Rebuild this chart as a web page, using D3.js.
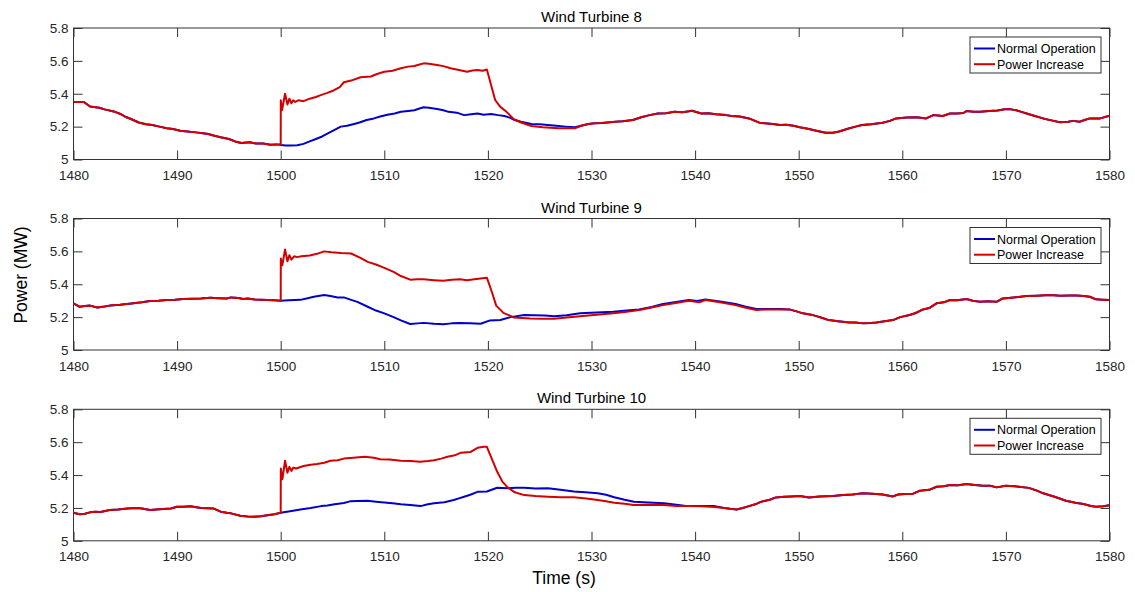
<!DOCTYPE html>
<html>
<head>
<meta charset="utf-8">
<script src="https://cdn.jsdelivr.net/npm/d3@7/dist/d3.min.js"></script>
<style>
  html, body { margin: 0; padding: 0; background: #ffffff; }
  svg { display: block; font-family: "Liberation Sans", Arial, sans-serif; }
</style>
</head>
<body>
<svg id="chart" width="1135" height="592"></svg>
<script>
// ---- Data: power output [time (s), power (MW)] ----
const xTicks = [1480, 1490, 1500, 1510, 1520, 1530, 1540, 1550, 1560, 1570, 1580];
const yTicks = [5, 5.2, 5.4, 5.6, 5.8];
const yTickLabels = ["5", "5.2", "5.4", "5.6", "5.8"];
const turbineNames = ["Wind Turbine 8", "Wind Turbine 9", "Wind Turbine 10"];
const seriesNames = ["Normal Operation", "Power Increase"];

// Wind Turbine 8
const wt8Before = [[1480,5.35],[1481,5.35],[1481.6,5.322],[1482.5,5.315],[1483,5.305],[1484,5.29],[1484.6,5.275],[1485,5.26],[1485.6,5.245],[1486.3,5.225],[1487,5.215],[1487.6,5.21],[1488.3,5.2],[1489,5.19],[1489.6,5.185],[1490.3,5.175],[1491,5.17],[1491.8,5.165],[1492.5,5.16],[1493,5.155],[1493.6,5.145],[1494.2,5.135],[1495,5.125],[1495.6,5.11],[1496.2,5.1],[1497,5.105],[1497.6,5.097],[1498.3,5.097],[1499,5.09],[1499.6,5.092],[1500,5.09]];
const wt8Normal = [[1500,5.088],[1500.5,5.085],[1501,5.085],[1501.6,5.087],[1502.2,5.095],[1502.8,5.11],[1503.4,5.125],[1504,5.14],[1504.6,5.16],[1505.2,5.18],[1505.8,5.2],[1506.4,5.205],[1507,5.215],[1507.6,5.225],[1508.3,5.24],[1509,5.25],[1509.6,5.262],[1510.3,5.272],[1511,5.28],[1511.6,5.29],[1512.3,5.295],[1512.9,5.3],[1513.4,5.31],[1513.8,5.318],[1514.3,5.315],[1515.1,5.307],[1515.7,5.3],[1516.2,5.29],[1517,5.285],[1517.7,5.27],[1518.4,5.275],[1519,5.28],[1519.6,5.272],[1520.3,5.277],[1521,5.27],[1521.6,5.265],[1522.1,5.255],[1522.6,5.24],[1523.2,5.23],[1524.2,5.216],[1525,5.215],[1525.8,5.21],[1526.6,5.205],[1527.5,5.2],[1528.4,5.196],[1529,5.205],[1529.7,5.216]];
const wt8Increase = [[1500,5.09],[1500.01,5.36],[1500.12,5.3],[1500.16,5.31],[1500.42,5.4],[1500.65,5.335],[1500.84,5.37],[1501.03,5.342],[1501.2,5.36],[1501.4,5.35],[1501.7,5.36],[1502.2,5.355],[1502.8,5.37],[1503.4,5.38],[1503.8,5.39],[1504.5,5.405],[1505.1,5.42],[1505.7,5.44],[1506.1,5.47],[1506.8,5.48],[1507.7,5.5],[1508.7,5.505],[1509.3,5.52],[1510,5.534],[1510.8,5.54],[1511.6,5.555],[1512.3,5.565],[1512.9,5.569],[1513.4,5.578],[1513.8,5.585],[1514.3,5.582],[1515.1,5.575],[1515.7,5.568],[1516.4,5.555],[1517.2,5.545],[1518,5.534],[1518.5,5.542],[1519,5.545],[1519.5,5.54],[1519.9,5.548],[1520.7,5.362],[1521.2,5.32],[1521.8,5.29],[1522.5,5.245],[1523.2,5.225],[1524.2,5.204],[1525.3,5.196],[1526.8,5.19],[1527.6,5.19],[1528.4,5.19],[1529,5.205],[1529.7,5.216]];
const wt8After = [[1530.3,5.22],[1531,5.222],[1532.3,5.23],[1533,5.232],[1534,5.24],[1534.8,5.257],[1535.6,5.27],[1536.4,5.28],[1537.2,5.282],[1538,5.29],[1538.8,5.288],[1539.7,5.297],[1540.6,5.28],[1541.3,5.282],[1542,5.275],[1543,5.27],[1543.5,5.265],[1544.3,5.262],[1545.2,5.25],[1546.2,5.224],[1547.5,5.216],[1548.2,5.21],[1548.8,5.212],[1549.5,5.205],[1550.1,5.196],[1551,5.185],[1551.7,5.175],[1552.6,5.163],[1553.3,5.163],[1553.9,5.17],[1554.9,5.19],[1555.5,5.2],[1556.1,5.21],[1557,5.215],[1558.1,5.224],[1558.8,5.235],[1559.4,5.25],[1560.4,5.255],[1561.4,5.257],[1562.3,5.25],[1563,5.27],[1563.9,5.265],[1564.6,5.28],[1565.3,5.28],[1565.9,5.283],[1566.2,5.295],[1566.9,5.29],[1567.5,5.29],[1568.4,5.295],[1569.2,5.298],[1570,5.307],[1570.5,5.305],[1571,5.3],[1571.5,5.29],[1572,5.28],[1572.8,5.265],[1573.6,5.25],[1574.4,5.238],[1575.2,5.227],[1576,5.23],[1576.5,5.235],[1577.1,5.23],[1577.6,5.24],[1578.1,5.25],[1579.1,5.25],[1580,5.266]];

// Wind Turbine 9
const wt9Before = [[1480,5.284],[1480.6,5.263],[1481.1,5.268],[1481.6,5.27],[1482.3,5.259],[1483,5.265],[1483.5,5.27],[1484.5,5.275],[1485.8,5.284],[1486.6,5.29],[1487.4,5.298],[1488.2,5.3],[1489,5.304],[1489.8,5.306],[1490.6,5.31],[1491.5,5.312],[1492.3,5.313],[1493.2,5.318],[1494,5.315],[1494.8,5.313],[1495.2,5.32],[1495.9,5.316],[1496.4,5.31],[1496.8,5.313],[1497.5,5.307],[1498.7,5.304],[1499.4,5.302],[1500,5.3]];
const wt9Normal = [[1500,5.3],[1500.8,5.302],[1501.9,5.305],[1502.6,5.315],[1503.2,5.324],[1504.2,5.334],[1504.8,5.328],[1505.5,5.32],[1506.1,5.32],[1506.8,5.305],[1507.4,5.293],[1508.4,5.263],[1509.2,5.24],[1510,5.223],[1510.9,5.2],[1511.6,5.18],[1512.5,5.158],[1513.2,5.162],[1513.8,5.165],[1514.8,5.16],[1515.7,5.157],[1516.5,5.162],[1517.3,5.165],[1518.3,5.163],[1519.3,5.16],[1520.2,5.18],[1521.2,5.182],[1522.2,5.2],[1523.5,5.213],[1524.5,5.212],[1525.5,5.21],[1526.4,5.206],[1527.6,5.212],[1528.9,5.223],[1530.5,5.228],[1532.1,5.233],[1533.4,5.24],[1534.6,5.247],[1535.8,5.262],[1536.9,5.28],[1538,5.29],[1539.4,5.304],[1540.2,5.298],[1541,5.308],[1542.4,5.295],[1543.9,5.28],[1544.8,5.265],[1545.9,5.25],[1547,5.25],[1548.3,5.25]];
const wt9Increase = [[1500,5.3],[1500.01,5.557],[1500.16,5.516],[1500.42,5.612],[1500.65,5.54],[1500.84,5.577],[1501.03,5.55],[1501.3,5.57],[1501.6,5.565],[1502,5.57],[1502.8,5.575],[1503.5,5.585],[1504.2,5.6],[1504.9,5.595],[1505.8,5.59],[1506.8,5.587],[1507.7,5.56],[1508.4,5.536],[1509.2,5.52],[1510,5.5],[1510.9,5.475],[1511.6,5.45],[1512.5,5.428],[1513.2,5.43],[1513.8,5.43],[1514.8,5.425],[1515.7,5.421],[1516.5,5.428],[1517.3,5.43],[1518,5.425],[1518.7,5.43],[1519.3,5.435],[1519.9,5.44],[1520.4,5.35],[1520.8,5.27],[1521.5,5.226],[1522.5,5.198],[1523.3,5.195],[1524.1,5.192],[1525.2,5.19],[1526.4,5.19],[1527.6,5.198],[1528.9,5.206],[1530.5,5.215],[1532.1,5.223],[1533.4,5.232],[1534.6,5.243],[1535.8,5.258],[1536.9,5.273],[1538,5.285],[1539.4,5.3],[1540.4,5.29],[1541,5.304],[1542.4,5.29],[1543.9,5.273],[1544.8,5.258],[1545.9,5.243],[1547,5.247],[1548.3,5.247]];
const wt9After = [[1549.1,5.247],[1549.8,5.235],[1550.4,5.223],[1551.2,5.215],[1551.7,5.206],[1552.3,5.195],[1552.9,5.182],[1553.8,5.175],[1554.9,5.168],[1555.5,5.167],[1556.2,5.162],[1557,5.165],[1557.5,5.168],[1558.3,5.175],[1559.1,5.182],[1559.8,5.2],[1560.7,5.213],[1561.3,5.225],[1562,5.247],[1562.6,5.255],[1563.3,5.284],[1564,5.29],[1564.6,5.304],[1565.3,5.302],[1566.2,5.31],[1566.8,5.3],[1567.5,5.293],[1568.3,5.297],[1569.1,5.293],[1569.7,5.314],[1570.5,5.318],[1571.2,5.322],[1572,5.328],[1573,5.33],[1574.2,5.334],[1575.3,5.33],[1576.1,5.332],[1576.8,5.332],[1577.5,5.328],[1578.1,5.324],[1578.7,5.308],[1579.3,5.306],[1580,5.304]];

// Wind Turbine 10
const wt10Before = [[1480,5.171],[1480.6,5.161],[1481.1,5.165],[1481.6,5.173],[1482.1,5.177],[1482.6,5.175],[1483.5,5.187],[1484.3,5.19],[1485.2,5.197],[1486.1,5.2],[1486.6,5.197],[1487.4,5.187],[1488.3,5.192],[1489.4,5.197],[1490,5.207],[1490.6,5.207],[1491.3,5.21],[1492.3,5.2],[1493.5,5.197],[1494.2,5.177],[1494.8,5.17],[1495.2,5.167],[1496.1,5.152],[1496.8,5.148],[1497.4,5.146],[1498.1,5.15],[1498.7,5.156],[1499.4,5.162],[1500,5.171]];
const wt10Normal = [[1500,5.171],[1500.9,5.18],[1501.9,5.191],[1502.9,5.2],[1503.9,5.211],[1504.5,5.215],[1505.2,5.223],[1506.1,5.23],[1506.7,5.24],[1507.4,5.242],[1508.4,5.244],[1509.2,5.238],[1510,5.233],[1510.8,5.228],[1511.6,5.222],[1512.5,5.218],[1513.5,5.211],[1514.2,5.222],[1514.8,5.228],[1515.8,5.235],[1516.7,5.248],[1517.2,5.258],[1517.7,5.268],[1518.3,5.28],[1519,5.298],[1519.9,5.3],[1520.9,5.323],[1521.9,5.32],[1522.7,5.323],[1523.5,5.323],[1524.6,5.318],[1525.8,5.32],[1527,5.31],[1528.3,5.3],[1529.4,5.296],[1530.6,5.289],[1531.4,5.28],[1532.2,5.265],[1533.2,5.25],[1534.1,5.238],[1535.5,5.233],[1537,5.228],[1538.2,5.22],[1539.3,5.211],[1540.6,5.212],[1541.9,5.211]];
const wt10Increase = [[1500,5.171],[1500.01,5.44],[1500.16,5.374],[1500.42,5.487],[1500.65,5.414],[1500.84,5.45],[1501.03,5.425],[1501.2,5.445],[1501.5,5.44],[1502.2,5.455],[1502.9,5.462],[1503.5,5.467],[1504.2,5.475],[1504.8,5.487],[1505.5,5.49],[1506.1,5.5],[1507,5.505],[1508.1,5.511],[1509,5.505],[1509.6,5.496],[1510.5,5.495],[1511.6,5.487],[1512.5,5.485],[1513.5,5.481],[1514.2,5.485],[1514.8,5.49],[1515.5,5.5],[1516.1,5.511],[1516.8,5.52],[1517.4,5.536],[1518.3,5.54],[1519,5.566],[1519.6,5.572],[1519.9,5.572],[1520.9,5.42],[1521.4,5.36],[1521.9,5.325],[1522.6,5.295],[1523.5,5.278],[1524.6,5.272],[1525.8,5.268],[1527,5.265],[1528.3,5.265],[1529.5,5.258],[1530.6,5.248],[1531.4,5.24],[1532.2,5.232],[1533.2,5.225],[1534.1,5.218],[1535.5,5.22],[1537,5.218],[1538.2,5.212],[1539.3,5.211],[1540.6,5.21],[1541.9,5.205]];
const wt10After = [[1542.8,5.2],[1543.4,5.195],[1544,5.191],[1544.6,5.2],[1545.2,5.211],[1545.8,5.222],[1546.4,5.238],[1547.2,5.25],[1547.8,5.264],[1548.6,5.268],[1549.3,5.27],[1550.1,5.272],[1551,5.264],[1552,5.27],[1553.3,5.272],[1554.3,5.278],[1555.2,5.282],[1556.2,5.289],[1557.1,5.286],[1558.1,5.282],[1559.1,5.27],[1559.6,5.282],[1560.3,5.285],[1561,5.285],[1561.7,5.305],[1562.6,5.31],[1563.3,5.329],[1564,5.332],[1564.6,5.339],[1565.4,5.338],[1566.2,5.345],[1567,5.34],[1567.8,5.335],[1568.5,5.335],[1569.1,5.325],[1570,5.335],[1570.8,5.332],[1571.5,5.328],[1572.2,5.322],[1573,5.305],[1573.6,5.289],[1574.7,5.268],[1575.8,5.244],[1576.7,5.232],[1577.5,5.224],[1578.2,5.212],[1578.7,5.207],[1579.4,5.21],[1580,5.216]];

// ---- Assemble full series per turbine ----
const panels = [
  { title: turbineNames[0], normal: wt8Before.concat(wt8Normal, wt8After),  increase: wt8Before.concat(wt8Increase, wt8After) },
  { title: turbineNames[1], normal: wt9Before.concat(wt9Normal, wt9After),  increase: wt9Before.concat(wt9Increase, wt9After) },
  { title: turbineNames[2], normal: wt10Before.concat(wt10Normal, wt10After), increase: wt10Before.concat(wt10Increase, wt10After) }
];

// ---- Layout ----
const plotLeft = 73.5, plotRight = 1109.5, plotH = 131.5;
const panelTops = [28, 218.5, 409.3];
const axisColor = "#333333";
const colors = ["#0000c8", "#d40000"];
const tickLen = 9;

const svg = d3.select("#chart");
const x = d3.scaleLinear().domain([1480, 1580]).range([plotLeft, plotRight]);

panels.forEach((p, i) => {
  const top = panelTops[i];
  const y = d3.scaleLinear().domain([5, 5.8]).range([top + plotH, top]);
  const g = svg.append("g");

  // series lines
  const line = d3.line().x(d => x(d[0])).y(d => y(d[1]));
  g.append("path").datum(p.normal)
    .attr("fill", "none").attr("stroke", colors[0]).attr("stroke-width", 2)
    .attr("stroke-linejoin", "round").attr("d", line);
  g.append("path").datum(p.increase)
    .attr("fill", "none").attr("stroke", colors[1]).attr("stroke-width", 2)
    .attr("stroke-linejoin", "round").attr("d", line);

  // axes: ticks point inward on all four sides
  const styleAxis = sel => {
    sel.select(".domain").remove();
    sel.selectAll("line").attr("stroke", axisColor).attr("stroke-width", 1);
    sel.selectAll("text").attr("fill", "#262626").style("font-size", "13.5px")
      .style("font-family", "'Liberation Sans', Arial, sans-serif");
  };
  g.append("g").attr("transform", `translate(0,${top + plotH})`)
    .call(d3.axisBottom(x).tickValues(xTicks).tickFormat(d3.format("d"))
      .tickSizeInner(-tickLen).tickSizeOuter(0).tickPadding(11))
    .call(styleAxis);
  g.append("g").attr("transform", `translate(0,${top})`)
    .call(d3.axisTop(x).tickValues(xTicks).tickFormat("")
      .tickSizeInner(-tickLen).tickSizeOuter(0))
    .call(styleAxis);
  g.append("g").attr("transform", `translate(${plotLeft},0)`)
    .call(d3.axisLeft(y).tickValues(yTicks).tickFormat((d, k) => yTickLabels[k])
      .tickSizeInner(-tickLen).tickSizeOuter(0).tickPadding(5))
    .call(styleAxis);
  g.append("g").attr("transform", `translate(${plotRight},0)`)
    .call(d3.axisRight(y).tickValues(yTicks).tickFormat("")
      .tickSizeInner(-tickLen).tickSizeOuter(0))
    .call(styleAxis);

  // axes box
  g.append("rect")
    .attr("x", plotLeft).attr("y", top)
    .attr("width", plotRight - plotLeft).attr("height", plotH)
    .attr("fill", "none").attr("stroke", axisColor).attr("stroke-width", 1);

  // title
  g.append("text")
    .attr("x", (plotLeft + plotRight) / 2).attr("y", top - 6)
    .attr("text-anchor", "middle").attr("fill", "#000")
    .style("font-size", "15px")
    .text(p.title);

  // legend
  const lg = g.append("g").attr("transform", `translate(970,${top + 9})`);
  lg.append("rect").attr("width", 131).attr("height", 36)
    .attr("fill", "#fff").attr("stroke", axisColor).attr("stroke-width", 1);
  seriesNames.forEach((name, k) => {
    const ry = 11.5 + k * 15.7;
    lg.append("line").attr("x1", 4).attr("x2", 25).attr("y1", ry).attr("y2", ry)
      .attr("stroke", colors[k]).attr("stroke-width", 2);
    lg.append("text").attr("x", 27).attr("y", ry + 4.5)
      .attr("fill", "#000").style("font-size", "12.5px").text(name);
  });
});

// shared axis labels
svg.append("text")
  .attr("transform", "translate(27,275) rotate(-90)")
  .attr("text-anchor", "middle").attr("fill", "#000")
  .style("font-size", "17.5px").text("Power (MW)");
svg.append("text")
  .attr("x", 564).attr("y", 584)
  .attr("text-anchor", "middle").attr("fill", "#000")
  .style("font-size", "17.5px").text("Time (s)");
</script>
</body>
</html>
